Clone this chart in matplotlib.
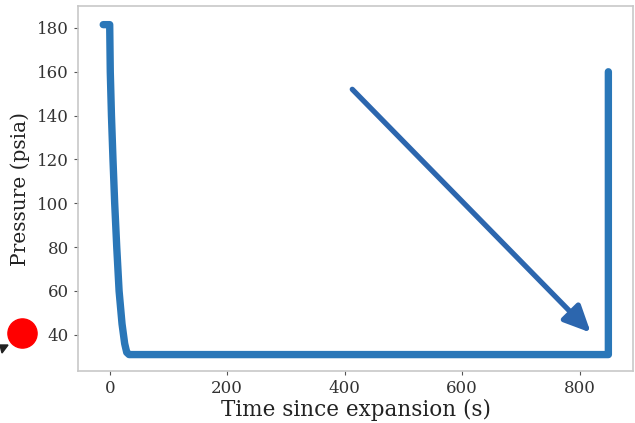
import matplotlib
matplotlib.use("Agg")
import matplotlib.pyplot as plt
from matplotlib.lines import Line2D
from matplotlib.patches import Polygon

# Data
time_s = [-11, 0, 1, 3, 5.6, 8.5, 12, 16, 21, 25.5, 29, 33, 100, 300, 500, 700, 849, 849]
pressure_psia = [181.5, 181.5, 160, 140, 120, 100, 80, 60, 45, 36, 32, 31, 31, 31, 31, 31, 31, 160]

arrow_start = (413, 152)
arrow_end = (819, 41)

x_ticks = [0, 200, 400, 600, 800]
y_ticks = [40, 60, 80, 100, 120, 140, 160, 180]

plt.rcParams['font.family'] = ['DejaVu Serif']

fig = plt.figure(figsize=(6.35, 4.23), dpi=100)
ax = fig.add_axes([0.1228, 0.1229, 0.8741, 0.8629])

ax.plot(time_s, pressure_psia, color='#2a77b8', lw=5.3, solid_capstyle='round',
        solid_joinstyle='round')
ax.annotate('', xy=arrow_end, xytext=arrow_start,
            arrowprops=dict(arrowstyle='-|>,head_length=1.6,head_width=0.75',
                            color='#2c66ae', lw=3.8, shrinkA=0, shrinkB=0,
                            capstyle='round'))

ax.set_xlim(-54, 891)
ax.set_ylim(23.5, 190)
ax.set_xticks(x_ticks)
ax.set_yticks(y_ticks)
ax.tick_params(labelsize=12, colors='#555555', length=3, width=0.8)
ax.tick_params(axis='both', labelcolor='#333333')
for s in ax.spines.values():
    s.set_color('#c8c8c8')
    s.set_linewidth(1.2)

ax.set_xlabel('Time since expansion (s)', fontsize=15.5, color='#222222', labelpad=1)
ax.set_ylabel('Pressure (psia)', fontsize=14.5, color='#222222', labelpad=5)

# red dot outside the axes
fig.add_artist(Line2D([22 / 635], [1 - 333 / 423], marker='o', markersize=21,
                      color='#ff0000', transform=fig.transFigure, linestyle='none'))
# small dark arrow tip at left edge
fig.add_artist(Polygon([[0 / 635, 1 - 345 / 423], [8 / 635, 1 - 345 / 423],
                        [2 / 635, 1 - 353 / 423]], closed=True, color='#222222',
                       transform=fig.transFigure))

fig.savefig('out.png', dpi=100)
